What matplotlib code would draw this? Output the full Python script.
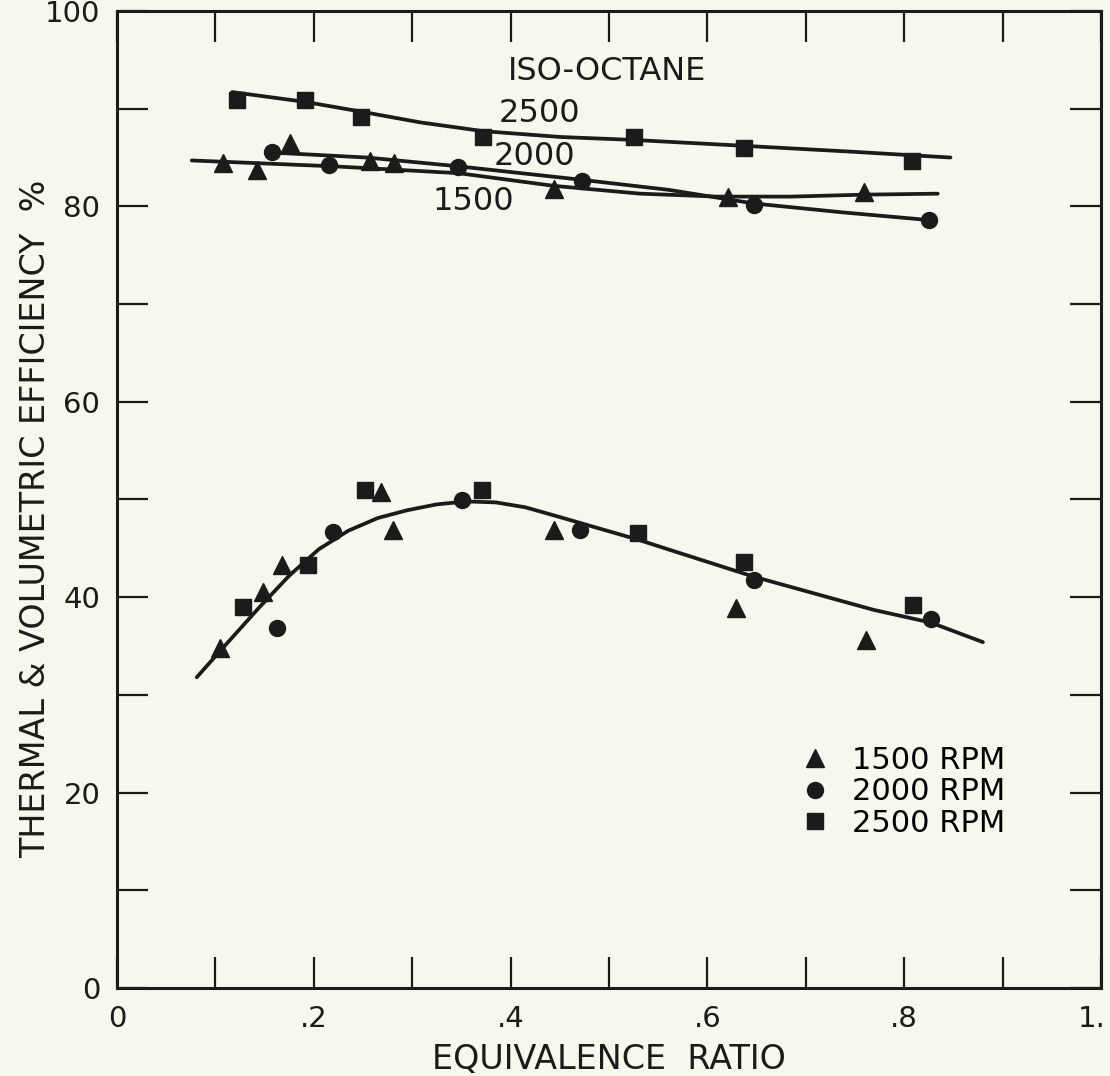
import numpy as np
import matplotlib.pyplot as plt
import matplotlib.transforms as mtransforms
from matplotlib.lines import Line2D

plt.rcParams['font.family'] = ['DejaVu Sans']

ink = '#1c1a1a'
paper = '#f7f7ee'

# volumetric efficiency (upper group)
vol_1500_x = [0.108, 0.142, 0.176, 0.257, 0.281, 0.444, 0.621, 0.759]
vol_1500_y = [84.4, 83.7, 86.5, 84.6, 84.4, 81.8, 81.0, 81.5]
vol_2000_x = [0.158, 0.215, 0.347, 0.473, 0.647, 0.825]
vol_2000_y = [85.6, 84.2, 84.0, 82.6, 80.1, 78.6]
vol_2500_x = [0.122, 0.191, 0.248, 0.372, 0.525, 0.637, 0.808]
vol_2500_y = [90.9, 90.9, 89.1, 87.1, 87.1, 86.0, 84.6]

# faired curves through the volumetric points
fit_1500_x = [0.076, 0.220, 0.347, 0.444, 0.532, 0.610, 0.685, 0.759, 0.834]
fit_1500_y = [84.7, 84.1, 83.4, 82.1, 81.3, 81.0, 81.0, 81.2, 81.3]
fit_2000_x = [0.159, 0.254, 0.347, 0.474, 0.560, 0.647, 0.736, 0.825]
fit_2000_y = [85.5, 85.0, 84.1, 82.7, 81.7, 80.3, 79.4, 78.6]
fit_2500_x = [0.117, 0.191, 0.248, 0.308, 0.372, 0.451, 0.525, 0.637, 0.746, 0.847]
fit_2500_y = [91.7, 90.7, 89.7, 88.6, 87.7, 87.1, 86.8, 86.2, 85.6, 85.0]

# thermal efficiency (lower group)
th_1500_x = [0.105, 0.148, 0.168, 0.268, 0.280, 0.444, 0.629, 0.761]
th_1500_y = [34.8, 40.5, 43.3, 50.8, 46.9, 46.9, 38.9, 35.6]
th_2000_x = [0.163, 0.220, 0.351, 0.471, 0.647, 0.827]
th_2000_y = [36.8, 46.7, 49.9, 46.9, 41.8, 37.8]
th_2500_x = [0.128, 0.194, 0.252, 0.371, 0.529, 0.637, 0.809]
th_2500_y = [39.0, 43.3, 51.0, 51.0, 46.6, 43.6, 39.2]

th_fit_x = [0.081, 0.112, 0.145, 0.175, 0.205, 0.235, 0.265, 0.295, 0.325,
            0.355, 0.385, 0.415, 0.450, 0.529, 0.647, 0.769, 0.827, 0.880]
th_fit_y = [31.8, 35.3, 39.0, 42.2, 44.9, 46.8, 48.1, 48.9, 49.5,
            49.8, 49.7, 49.2, 48.2, 45.9, 42.1, 38.7, 37.4, 35.4]

x_ticks = [0, 0.1, 0.2, 0.3, 0.4, 0.5, 0.6, 0.7, 0.8, 0.9, 1.0]
x_tick_labels = ['0', '', '.2', '', '.4', '', '.6', '', '.8', '', '1.']
y_ticks = [0, 10, 20, 30, 40, 50, 60, 70, 80, 90, 100]
y_tick_labels = ['0', '', '20', '', '40', '', '60', '', '80', '', '100']

fs = 22

fig = plt.figure(figsize=(11.10, 10.76), dpi=100, facecolor=paper)
ax = fig.add_axes([0.1054, 0.0818, 0.8865, 0.908])
ax.set_facecolor(paper)

lw = 2.7
for fx, fy in [(fit_1500_x, fit_1500_y), (fit_2000_x, fit_2000_y),
               (fit_2500_x, fit_2500_y), (th_fit_x, th_fit_y)]:
    ax.plot(fx, fy, color=ink, lw=lw, solid_capstyle='round',
            solid_joinstyle='round', zorder=2)

mk = {'1500': ('^', 13), '2000': ('o', 11.5), '2500': ('s', 11)}
ax.plot(vol_1500_x, vol_1500_y, ls='none', marker='^', ms=13, color=ink, zorder=3)
ax.plot(vol_2000_x, vol_2000_y, ls='none', marker='o', ms=11.5, color=ink, zorder=3)
ax.plot(vol_2500_x, vol_2500_y, ls='none', marker='s', ms=11, color=ink, zorder=3)
ax.plot(th_1500_x, th_1500_y, ls='none', marker='^', ms=13, color=ink, zorder=3)
ax.plot(th_2000_x, th_2000_y, ls='none', marker='o', ms=11.5, color=ink, zorder=3)
ax.plot(th_2500_x, th_2500_y, ls='none', marker='s', ms=11, color=ink, zorder=3)

handles = [Line2D([], [], ls='none', marker=m, ms=s, color=ink, label=k + ' RPM')
           for k, (m, s) in mk.items()]
ax.legend(handles=handles, loc='center left', bbox_to_anchor=(0.694, 0.2006),
          frameon=False, fontsize=fs, handlelength=1.0, handletextpad=0.7,
          labelspacing=0.08, borderpad=0, borderaxespad=0)

ax.text(0.397, 93.8, 'ISO-OCTANE', fontsize=fs + 1, color=ink, va='center', ha='left')
ax.text(0.388, 89.5, '2500', fontsize=fs + 1, color=ink, va='center', ha='left')
ax.text(0.383, 85.1, '2000', fontsize=fs + 1, color=ink, va='center', ha='left')
ax.text(0.321, 80.5, '1500', fontsize=fs + 1, color=ink, va='center', ha='left')

ax.set_xlim(0, 1.0)
ax.set_ylim(0, 100)
ax.set_xticks(x_ticks, x_tick_labels)
ax.set_yticks(y_ticks, y_tick_labels)
ax.tick_params(direction='in', top=True, right=True, length=22, width=1.6,
               color=ink, labelcolor=ink, labelsize=fs - 1, pad=12)
for sp in ax.spines.values():
    sp.set_linewidth(2.2)
    sp.set_color(ink)

# keep the "1." label inside the figure edge
last = ax.get_xticklabels()[-1]
last.set_transform(last.get_transform() +
                   mtransforms.ScaledTranslation(-7 / 72, 0, fig.dpi_scale_trans))

ax.set_xlabel('EQUIVALENCE  RATIO', fontsize=fs + 2, color=ink)
ax.xaxis.set_label_coords(0.5, -0.056)
ax.set_ylabel('THERMAL & VOLUMETRIC EFFICIENCY  %', fontsize=fs + 2, color=ink)
ax.yaxis.set_label_coords(-0.066, 0.48)

fig.savefig('out.png', dpi=100, facecolor=paper)
